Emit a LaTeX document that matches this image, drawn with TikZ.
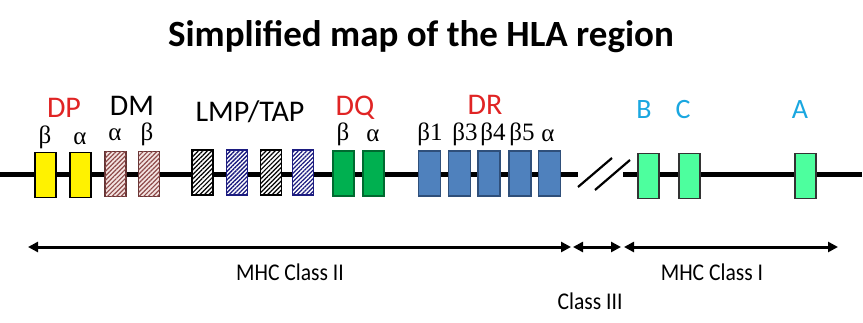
\documentclass[tikz,border=0pt]{standalone}
\usepackage{fontspec}
\setmainfont{Carlito}
\newfontfamily\greekfont{Liberation Serif}
\usetikzlibrary{patterns,patterns.meta,arrows.meta}
\definecolor{hlared}{HTML}{E02424}
\definecolor{hlacyan}{HTML}{1AA7E0}
\definecolor{dmbrown}{HTML}{8E4A4A}
\definecolor{dmfill}{HTML}{F4E4E2}
\definecolor{tapblue}{HTML}{1C1C80}
\definecolor{dqgreen}{HTML}{00B050}
\definecolor{drblue}{HTML}{4F81BD}
\definecolor{drborder}{HTML}{2F4F7A}
\definecolor{mintgreen}{HTML}{4DFF9E}
\begin{document}
\begin{tikzpicture}[x=1pt,y=-1pt,
  gene/.style={minimum width=21pt,minimum height=45pt,inner sep=0pt,line width=1.1pt},
  yellowgene/.style={gene,draw=black,fill=yellow},
  dmgene/.style={gene,draw=dmbrown!70!black,fill=dmfill,postaction={pattern={Lines[angle=45,distance=3.2pt,line width=1.2pt]},pattern color=dmbrown}},
  tapblack/.style={gene,draw=black,fill=white,postaction={pattern={Lines[angle=45,distance=3.2pt,line width=1.2pt]},pattern color=black}},
  tapbluegene/.style={gene,draw=tapblue,fill=white,postaction={pattern={Lines[angle=45,distance=3pt,line width=1.3pt]},pattern color=tapblue}},
  dqgene/.style={gene,draw=dqgreen!60!black,fill=dqgreen},
  drgene/.style={gene,draw=drborder,fill=drblue,minimum width=22pt},
  classone/.style={gene,draw=black!80,fill=mintgreen},
  locus/.style={font=\fontsize{30}{34}\selectfont,anchor=base,inner sep=0pt,text height=20pt,text depth=1pt},
  cyanlocus/.style={locus,text=hlacyan,font=\fontsize{28}{32}\selectfont},
  sublab/.style={font=\greekfont\fontsize{25}{28}\selectfont,anchor=base,inner sep=0pt,text height=13pt,text depth=4pt},
  regionlab/.style={font=\fontsize{24}{28}\selectfont,anchor=base,inner sep=0pt},
  span/.style={line width=3pt,{Triangle[length=10pt,width=10pt]}-{Triangle[length=10pt,width=10pt]}},
  chrom/.style={line width=5pt},
  brk/.style={line width=2.2pt}
]
\useasboundingbox (0,0) rectangle (863,322);

% title
\node[font=\bfseries\fontsize{37}{42}\selectfont,anchor=base,inner sep=0pt] (title) at (421,46) {Simplified map of the HLA region};

% chromosome line
\coordinate (l0) at (0,174);
\coordinate (l1) at (578,174);
\coordinate (r0) at (623,174);
\coordinate (r1) at (862,174);
\draw[chrom] (l0) -- (l1);
\draw[chrom] (r0) -- (r1);
\coordinate (s1a) at (578,187);
\coordinate (s1b) at (612,158);
\coordinate (s2a) at (595,190);
\coordinate (s2b) at (630,160);
\draw[brk] (s1a) -- (s1b);
\draw[brk] (s2a) -- (s2b);

% genes
\node[yellowgene] (dpb) at (45.5,175) {};
\node[yellowgene] (dpa) at (80.5,175) {};
\node[dmgene] (dma) at (115.5,174) {};
\node[dmgene] (dmb) at (149,174) {};
\node[tapblack] (t1) at (202.5,172.5) {};
\node[tapbluegene] (t2) at (237,172.5) {};
\node[tapblack] (t3) at (271,172.5) {};
\node[tapbluegene] (t4) at (303,172.5) {};
\node[dqgene] (dqb) at (343.5,173.5) {};
\node[dqgene] (dqa) at (373.5,173.5) {};
\node[drgene] (drb1) at (429.5,173.5) {};
\node[drgene] (drb3) at (459.5,173.5) {};
\node[drgene] (drb4) at (489,173.5) {};
\node[drgene] (drb5) at (520,173.5) {};
\node[drgene] (dra) at (549.5,173.5) {};
\node[classone] (hlab) at (648.5,176) {};
\node[classone] (hlac) at (689.5,176) {};
\node[classone] (hlaa) at (805.5,176) {};

% locus labels
\node[locus,text=hlared] (ldp) at (64,117) {DP};
\node[locus] (ldm) at (132,115) {DM};
\node[locus] (ltap) at (250,121) {LMP/TAP};
\node[locus,text=hlared] (ldq) at (355,115) {DQ};
\node[locus,text=hlared] (ldr) at (485,114) {DR};
\node[cyanlocus] (lb) at (644,118) {B};
\node[cyanlocus] (lc) at (683,118) {C};
\node[cyanlocus] (la) at (800,118) {A};

% subunit labels
\node[sublab] (gdpb) at (45,143) {β};
\node[sublab] (gdpa) at (80,144) {α};
\node[sublab] (gdma) at (115,140) {α};
\node[sublab] (gdmb) at (147,140) {β};
\node[sublab] (gdqb) at (343,140) {β};
\node[sublab] (gdqa) at (373,141) {α};
\node[sublab] (gdrb1) at (430,140) {β1};
\node[sublab] (gdrb3) at (465,140) {β3};
\node[sublab] (gdrb4) at (493,140) {β4};
\node[sublab] (gdrb5) at (522,140) {β5};
\node[sublab] (gdra) at (548,141) {α};

% region spans
\coordinate (a0) at (28,247);
\coordinate (a1) at (571,247);
\coordinate (a2) at (573,247);
\coordinate (a3) at (621,247);
\coordinate (a4) at (624,247);
\coordinate (a5) at (838,247);
\draw[span] (a0) -- (a1);
\draw[span] (a2) -- (a3);
\draw[span] (a4) -- (a5);
\node[regionlab,xscale=0.9] (rII) at (290,280) {MHC Class II};
\node[regionlab,xscale=0.9] (rIII) at (590,309) {Class III};
\node[regionlab,xscale=0.9] (rI) at (712,280) {MHC Class I};
\end{tikzpicture}
\end{document}
